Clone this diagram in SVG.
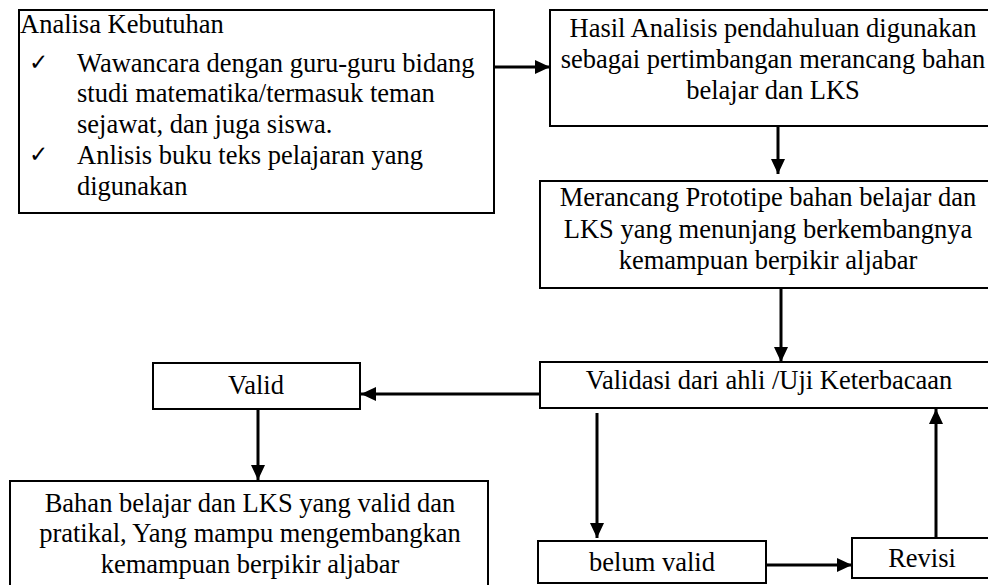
<svg xmlns="http://www.w3.org/2000/svg" width="988" height="585" viewBox="0 0 988 585">
<style>
.box{fill:#fff;stroke:#000;stroke-width:2}
.t{font-family:"Liberation Serif","Times New Roman",serif;font-size:26.5px;fill:#000}
.c{text-anchor:middle}
.ck{font-family:"DejaVu Sans",sans-serif;font-size:23px;fill:#000}
.conn line{stroke:#000;stroke-width:3;marker-end:url(#ah)}
</style>
<defs>
<marker id="ah" viewBox="0 0 15 14" refX="15" refY="7" markerWidth="15" markerHeight="14" markerUnits="userSpaceOnUse" orient="auto">
<path d="M0,0 L15,7 L0,14 z" fill="#000"/>
</marker>
</defs>
<rect width="988" height="585" fill="#fff"/>
<g id="analisa">
<rect class="box" x="19" y="10" width="475" height="203"/>
<text class="t" x="20" y="33">Analisa Kebutuhan</text>
<text class="ck" x="29" y="70">✓</text>
<text class="t" x="77" y="72">Wawancara dengan guru-guru bidang</text>
<text class="t" x="77" y="102">studi matematika/termasuk teman</text>
<text class="t" x="77" y="133">sejawat, dan juga siswa.</text>
<text class="ck" x="29" y="162">✓</text>
<text class="t" x="77" y="164">Anlisis buku teks pelajaran yang</text>
<text class="t" x="77" y="195">digunakan</text>
</g>
<g id="hasil">
<rect class="box" x="550" y="10" width="446" height="116"/>
<text class="t c" x="773" y="37">Hasil Analisis pendahuluan digunakan</text>
<text class="t c" x="773" y="68">sebagai pertimbangan merancang bahan</text>
<text class="t c" x="773" y="99">belajar dan LKS</text>
</g>
<g id="merancang">
<rect class="box" x="540" y="181" width="456" height="107"/>
<text class="t c" x="768" y="206">Merancang Prototipe bahan belajar dan</text>
<text class="t c" x="768" y="238">LKS yang menunjang berkembangnya</text>
<text class="t c" x="768" y="269">kemampuan berpikir aljabar</text>
</g>
<g id="validasi">
<rect class="box" x="540" y="362" width="456" height="46"/>
<text class="t c" x="769" y="389">Validasi dari ahli /Uji Keterbacaan</text>
</g>
<g id="valid">
<rect class="box" x="153" y="363" width="207" height="46"/>
<text class="t c" x="256" y="394">Valid</text>
</g>
<g id="bahan">
<rect class="box" x="10" y="481" width="478" height="110"/>
<text class="t c" x="250" y="512">Bahan belajar dan LKS yang valid dan</text>
<text class="t c" x="250" y="542">pratikal, Yang mampu mengembangkan</text>
<text class="t c" x="250" y="573">kemampuan berpikir aljabar</text>
</g>
<g id="belum">
<rect class="box" x="538" y="541" width="228" height="42"/>
<text class="t c" x="652" y="571">belum valid</text>
</g>
<g id="revisi">
<rect class="box" x="852" y="538" width="142" height="40"/>
<text class="t c" x="922" y="567">Revisi</text>
</g>
<g id="connectors" class="conn">
<line x1="494" y1="67" x2="550" y2="67"/>
<line x1="778" y1="126" x2="778" y2="174"/>
<line x1="781" y1="288" x2="781" y2="362"/>
<line x1="540" y1="394" x2="361" y2="394"/>
<line x1="258" y1="409" x2="258" y2="480"/>
<line x1="597" y1="413" x2="597" y2="538"/>
<line x1="766" y1="565" x2="852" y2="565"/>
<line x1="936" y1="538" x2="936" y2="409"/>
</g>
</svg>
